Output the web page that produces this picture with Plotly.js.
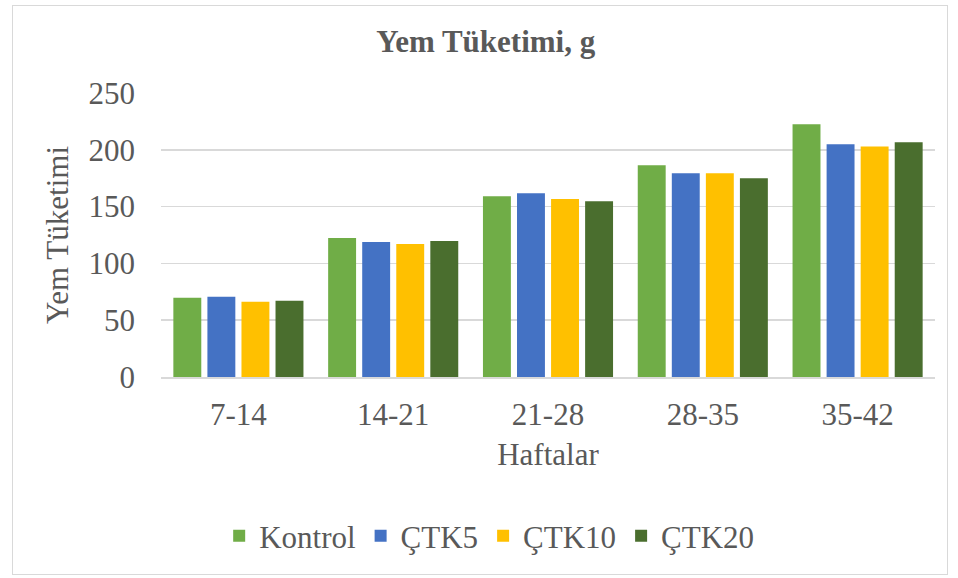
<!DOCTYPE html>
<html><head><meta charset="utf-8">
<script src="https://cdn.plot.ly/plotly-3.0.1.min.js"></script>
<style>
html,body{margin:0;padding:0;background:#fff;}
#frame{position:absolute;left:12px;top:5px;width:934px;height:568px;border:1.5px solid #D9D9D9;}
#chart{position:absolute;left:0;top:0;width:958px;height:578px;}
</style></head>
<body>
<div id="frame"></div>
<div id="chart"></div>
<script>
const categories = ["7-14","14-21","21-28","28-35","35-42"];
const kontrol = [69.7,122.4,159.2,186.4,222.4];
const ctk5   = [70.6,118.9,161.8,179.4,204.8];
const ctk10  = [66.2,117.1,156.6,179.4,203.0];
const ctk20  = [67.1,119.7,154.8,175.0,206.6];
const seriesNames = ["Kontrol","ÇTK5","ÇTK10","ÇTK20"];
const seriesValues = [kontrol, ctk5, ctk10, ctk20];
const colors = ["#70AD47","#4472C4","#FFC000","#4A6E2E"];

const traces = seriesValues.map((v,i)=>({
  type:"bar", x:categories, y:v, name:seriesNames[i],
  marker:{color:colors[i]}
}));

const F = "Liberation Serif";
const C = "#595959";
const S = 31;
const layout = {
  width:958, height:578,
  paper_bgcolor:"rgba(0,0,0,0)", plot_bgcolor:"rgba(0,0,0,0)",
  margin:{l:160.5, r:22.5, t:92.5, b:200.5},
  barmode:"group", bargap:0.12, bargroupgap:0.18,
  font:{family:F, color:C, size:S},
  title:{text:"<b>Yem Tüketimi, g</b>", xref:"container", x:0.507, xanchor:"center", yref:"container", y:0.928, yanchor:"middle",
         font:{family:F, size:S, color:C}},
  xaxis:{type:"category", showgrid:false, zeroline:false, showline:true, linecolor:"#D9D9D9", linewidth:1.5,
         ticks:"outside", ticklen:9, tickcolor:"rgba(0,0,0,0)", tickfont:{family:F, size:S, color:C},
         title:{text:"Haftalar", font:{family:F, size:S, color:C}, standoff:12}},
  yaxis:{range:[0,250], dtick:50, tick0:0, showgrid:true, gridcolor:"#D9D9D9", gridwidth:1.5,
         zeroline:false, showline:false, ticks:"", ticklabelstandoff:25, tickfont:{family:F, size:S, color:C},
         title:{text:"Yem Tüketimi", font:{family:F, size:S, color:C}, standoff:10}},
  legend:{orientation:"h", x:0.424, xanchor:"center", y:-0.465, yanchor:"top",
          font:{family:F, size:S, color:C}, itemwidth:30, tracegroupgap:0},
  showlegend:true
};
Plotly.newPlot("chart", traces, layout, {displayModeBar:false, staticPlot:true});
</script>
</body></html>
